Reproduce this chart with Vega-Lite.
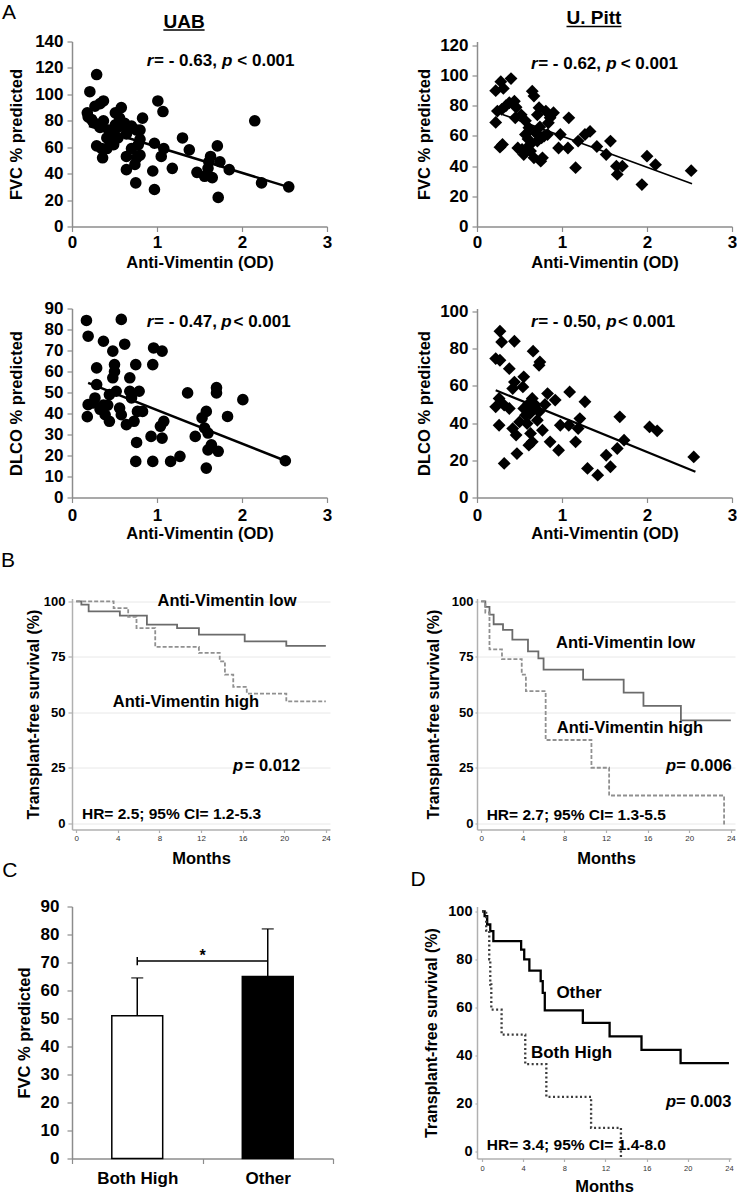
{
"$schema":"https://vega.github.io/schema/vega-lite/v6.json",
"background":"white",
"padding":{"left":1,"top":1.5,"right":0,"bottom":0},
"columns":2,
"spacing":{"row":0,"column":144},
"bounds":"flush",
"resolve":{"scale":{"color":"independent","strokeDash":"independent","fill":"independent"}},
"config":{
 "font":"Liberation Sans",
 "view":{"stroke":null},
 "axis":{"labelFont":"Liberation Sans","titleFont":"Liberation Sans","labelFontWeight":"bold","titleFontWeight":"bold","labelColor":"#000","titleColor":"#000","domainColor":"#8c8c8c","tickColor":"#8c8c8c","domainWidth":1.5,"tickWidth":1.2,"labelFontSize":17,"titleFontSize":16.5,"tickSize":5,"grid":false,"labelOverlap":false,"labelFlush":false},
 "text":{"font":"Liberation Sans","color":"#000"}
},
"datasets":{
 "uabFvc":[{"x":0.29,"y":115},{"x":0.21,"y":102},{"x":0.18,"y":86},{"x":0.19,"y":83},{"x":0.23,"y":81},{"x":0.27,"y":91},{"x":0.33,"y":93},{"x":0.37,"y":95},{"x":0.37,"y":80},{"x":0.33,"y":75},{"x":0.29,"y":61},{"x":0.35,"y":59},{"x":0.36,"y":52},{"x":0.41,"y":67},{"x":0.45,"y":64},{"x":0.47,"y":71},{"x":0.43,"y":73},{"x":0.51,"y":77},{"x":0.51,"y":86},{"x":0.58,"y":90},{"x":0.56,"y":82},{"x":0.54,"y":75},{"x":0.49,"y":62},{"x":0.54,"y":67},{"x":0.64,"y":70},{"x":0.62,"y":78},{"x":0.70,"y":76},{"x":0.76,"y":73},{"x":0.80,"y":73},{"x":0.64,"y":53},{"x":0.70,"y":59},{"x":0.64,"y":43},{"x":0.76,"y":52},{"x":0.80,"y":54},{"x":0.74,"y":47},{"x":0.75,"y":33},{"x":0.83,"y":82},{"x":0.80,"y":66},{"x":0.95,"y":42},{"x":0.97,"y":28},{"x":0.97,"y":63},{"x":1.01,"y":95},{"x":1.07,"y":87},{"x":1.05,"y":53},{"x":1.08,"y":59},{"x":1.18,"y":44},{"x":1.30,"y":67},{"x":1.38,"y":58},{"x":1.47,"y":41},{"x":1.56,"y":38},{"x":1.60,"y":44},{"x":1.63,"y":53},{"x":1.61,"y":49},{"x":1.65,"y":37},{"x":1.71,"y":61},{"x":1.72,"y":22},{"x":1.74,"y":49},{"x":1.85,"y":43},{"x":2.15,"y":80},{"x":2.23,"y":33},{"x":2.55,"y":30},{"x":0.25,"y":79},{"x":0.41,"y":59},{"x":0.47,"y":65},{"x":0.66,"y":73},{"x":0.78,"y":62}],
 "uabFvcFit":[{"x":0.2,"y":76.1},{"x":2.55,"y":29.8}],
 "pittFvc":[{"x":0.22,"y":90},{"x":0.28,"y":96},{"x":0.31,"y":91.5},{"x":0.40,"y":98},{"x":0.22,"y":69},{"x":0.24,"y":76.5},{"x":0.29,"y":77.6},{"x":0.34,"y":80},{"x":0.38,"y":82},{"x":0.44,"y":83},{"x":0.46,"y":79},{"x":0.27,"y":52.6},{"x":0.30,"y":54.4},{"x":0.48,"y":52},{"x":0.53,"y":51},{"x":0.55,"y":47.7},{"x":0.52,"y":74},{"x":0.57,"y":70},{"x":0.57,"y":61},{"x":0.61,"y":65.4},{"x":0.65,"y":89.7},{"x":0.67,"y":86.4},{"x":0.63,"y":50},{"x":0.67,"y":45.5},{"x":0.71,"y":74},{"x":0.73,"y":78.7},{"x":0.76,"y":58.8},{"x":0.71,"y":56.6},{"x":0.77,"y":45.5},{"x":0.75,"y":43.3},{"x":0.83,"y":61},{"x":0.84,"y":68.7},{"x":0.81,"y":76.5},{"x":0.90,"y":75.4},{"x":0.98,"y":61},{"x":0.96,"y":52},{"x":1.08,"y":72},{"x":1.07,"y":52},{"x":1.16,"y":39},{"x":1.19,"y":56.6},{"x":1.27,"y":61},{"x":1.33,"y":63},{"x":1.41,"y":53},{"x":1.52,"y":47.7},{"x":1.57,"y":56.6},{"x":1.64,"y":40},{"x":1.65,"y":34.5},{"x":1.71,"y":40},{"x":1.94,"y":27.8},{"x":2.00,"y":46.6},{"x":2.10,"y":41},{"x":2.52,"y":37},{"x":0.45,"y":72},{"x":0.60,"y":58},{"x":0.69,"y":62},{"x":0.74,"y":66},{"x":0.79,"y":60},{"x":0.86,"y":72},{"x":0.58,"y":50},{"x":0.62,"y":54}],
 "pittFvcFit":[{"x":0.3,"y":74.3},{"x":2.53,"y":28.3}],
 "uabDlco":[{"x":0.17,"y":84.3},{"x":0.19,"y":76.8},{"x":0.18,"y":38.5},{"x":0.19,"y":44.2},{"x":0.27,"y":47.4},{"x":0.29,"y":61.7},{"x":0.29,"y":53.8},{"x":0.37,"y":74.4},{"x":0.48,"y":69.7},{"x":0.50,"y":63.3},{"x":0.50,"y":60},{"x":0.48,"y":57},{"x":0.44,"y":49},{"x":0.37,"y":44},{"x":0.39,"y":39.4},{"x":0.44,"y":36.3},{"x":0.58,"y":84.8},{"x":0.62,"y":73},{"x":0.52,"y":50.6},{"x":0.56,"y":42.6},{"x":0.58,"y":39.4},{"x":0.64,"y":34.7},{"x":0.68,"y":57},{"x":0.68,"y":50.6},{"x":0.70,"y":47.4},{"x":0.75,"y":63.3},{"x":0.79,"y":50.6},{"x":0.73,"y":36.3},{"x":0.77,"y":41},{"x":0.83,"y":41},{"x":0.76,"y":26.2},{"x":0.75,"y":17.2},{"x":0.95,"y":63.3},{"x":0.96,"y":71.2},{"x":1.06,"y":69.7},{"x":0.93,"y":29.1},{"x":0.95,"y":17.2},{"x":1.04,"y":33.9},{"x":1.08,"y":36.3},{"x":1.06,"y":28.3},{"x":1.16,"y":17.2},{"x":1.27,"y":19.6},{"x":1.36,"y":49.8},{"x":1.45,"y":29.1},{"x":1.53,"y":37.9},{"x":1.58,"y":41},{"x":1.56,"y":33.1},{"x":1.60,"y":30.7},{"x":1.58,"y":14},{"x":1.60,"y":22.7},{"x":1.64,"y":25.1},{"x":1.72,"y":22},{"x":1.70,"y":52.3},{"x":1.70,"y":49.8},{"x":1.83,"y":38.6},{"x":2.01,"y":46.6},{"x":2.51,"y":17.5},{"x":0.25,"y":45},{"x":0.33,"y":42},{"x":0.42,"y":44}],
 "uabDlcoFit":[{"x":0.19,"y":54.6},{"x":2.51,"y":17.5}],
 "pittDlco":[{"x":0.27,"y":89.3},{"x":0.29,"y":83.5},{"x":0.44,"y":83.9},{"x":0.22,"y":74.6},{"x":0.27,"y":73.7},{"x":0.38,"y":69.2},{"x":0.44,"y":62},{"x":0.42,"y":58.5},{"x":0.55,"y":64.8},{"x":0.54,"y":59.4},{"x":0.66,"y":78.6},{"x":0.74,"y":72.8},{"x":0.73,"y":71},{"x":0.22,"y":48.7},{"x":0.26,"y":53.2},{"x":0.32,"y":49.6},{"x":0.38,"y":47.8},{"x":0.26,"y":38.8},{"x":0.42,"y":37},{"x":0.46,"y":33.5},{"x":0.32,"y":18.3},{"x":0.47,"y":23.6},{"x":0.50,"y":40.6},{"x":0.55,"y":47.8},{"x":0.61,"y":50.5},{"x":0.65,"y":53.2},{"x":0.57,"y":44.2},{"x":0.59,"y":39.7},{"x":0.63,"y":34.4},{"x":0.61,"y":28.1},{"x":0.65,"y":29.9},{"x":0.69,"y":49.6},{"x":0.73,"y":46},{"x":0.77,"y":36.1},{"x":0.71,"y":41.5},{"x":0.83,"y":55.8},{"x":0.92,"y":52.3},{"x":0.86,"y":29.9},{"x":0.98,"y":38.8},{"x":0.96,"y":25.4},{"x":1.09,"y":56.7},{"x":1.08,"y":38.8},{"x":1.16,"y":29.9},{"x":1.21,"y":42.4},{"x":1.19,"y":37},{"x":1.27,"y":51.4},{"x":1.30,"y":15.6},{"x":1.42,"y":12},{"x":1.52,"y":22.7},{"x":1.57,"y":16.5},{"x":1.65,"y":26.3},{"x":1.68,"y":43.3},{"x":1.73,"y":30.8},{"x":2.03,"y":37.9},{"x":2.12,"y":35.8},{"x":2.55,"y":21.8},{"x":0.62,"y":45},{"x":0.67,"y":48},{"x":0.80,"y":50}],
 "pittDlcoFit":[{"x":0.22,"y":57.6},{"x":2.57,"y":13.8}],
 "kmB1":[{"g":"low","x":0,"y":100},{"g":"low","x":0.5,"y":98.5},{"g":"low","x":1.2,"y":95.5},{"g":"low","x":4.2,"y":93.6},{"g":"low","x":6.8,"y":89.5},{"g":"low","x":9.7,"y":88},{"g":"low","x":11.8,"y":85},{"g":"low","x":16.2,"y":82},{"g":"low","x":20.2,"y":80},{"g":"low","x":24,"y":80},
  {"g":"high","x":0,"y":100},{"g":"high","x":3.6,"y":97},{"g":"high","x":5.0,"y":93},{"g":"high","x":5.8,"y":88},{"g":"high","x":7.6,"y":79.5},{"g":"high","x":11.8,"y":76.8},{"g":"high","x":13.8,"y":73},{"g":"high","x":14.3,"y":67},{"g":"high","x":15.1,"y":61.5},{"g":"high","x":16.4,"y":58.5},{"g":"high","x":20.2,"y":55},{"g":"high","x":24,"y":55}],
 "kmB2":[{"g":"low","x":0,"y":100},{"g":"low","x":0.4,"y":97.5},{"g":"low","x":0.8,"y":94},{"g":"low","x":1.2,"y":89.7},{"g":"low","x":2.1,"y":87.2},{"g":"low","x":3.0,"y":82.8},{"g":"low","x":4.5,"y":77.5},{"g":"low","x":5.5,"y":74.3},{"g":"low","x":6.0,"y":69.3},{"g":"low","x":9.8,"y":64.8},{"g":"low","x":13.7,"y":58.9},{"g":"low","x":15.6,"y":53},{"g":"low","x":19.2,"y":46.4},{"g":"low","x":24,"y":46.4},
  {"g":"high","x":0,"y":100},{"g":"high","x":0.4,"y":95},{"g":"high","x":0.8,"y":78.4},{"g":"high","x":2.0,"y":74},{"g":"high","x":3.9,"y":67},{"g":"high","x":4.3,"y":59.6},{"g":"high","x":6.2,"y":37.6},{"g":"high","x":10.6,"y":25.1},{"g":"high","x":12.3,"y":12.6},{"g":"high","x":23.35,"y":-1}],
 "kmD":[{"g":"other","x":0,"y":100},{"g":"other","x":0.25,"y":98},{"g":"other","x":0.5,"y":94.5},{"g":"other","x":0.8,"y":91.7},{"g":"other","x":1.1,"y":87.6},{"g":"other","x":3.8,"y":84},{"g":"other","x":4.1,"y":80},{"g":"other","x":4.6,"y":75.3},{"g":"other","x":5.7,"y":70.9},{"g":"other","x":5.9,"y":66},{"g":"other","x":6.1,"y":58.7},{"g":"other","x":9.8,"y":53.5},{"g":"other","x":12.4,"y":47.9},{"g":"other","x":15.5,"y":42.3},{"g":"other","x":19.3,"y":36.7},{"g":"other","x":24,"y":36.7},
  {"g":"both","x":0,"y":100},{"g":"both","x":0.4,"y":92},{"g":"both","x":0.7,"y":80},{"g":"both","x":0.8,"y":69.5},{"g":"both","x":0.9,"y":59},{"g":"both","x":1.9,"y":48.6},{"g":"both","x":4.2,"y":36.3},{"g":"both","x":6.25,"y":22.7},{"g":"both","x":10.6,"y":9.8},{"g":"both","x":13.5,"y":-3}],
 "bars":[{"g":"Both High","y":51,"up":64.5},{"g":"Other","y":65,"up":82}]
},
"concat":[
 {"width":255,"height":185,"layer":[
  {"data":{"name":"uabFvc"},"mark":{"type":"point","shape":"circle","filled":true,"color":"#000","opacity":1,"size":135},
   "encoding":{"x":{"field":"x","type":"quantitative","scale":{"domain":[0,3],"nice":false,"zero":false},"axis":{"values":[0,1,2,3],"tickCount":30,"format":"d","labelOverlap":false,"title":"Anti-Vimentin (OD)","labelPadding":3,"titlePadding":4}},
    "y":{"field":"y","type":"quantitative","scale":{"domain":[0,140],"nice":false},"axis":{"values":[0,20,40,60,80,100,120,140],"tickCount":30,"format":"d","labelOverlap":false,"title":"FVC % predicted","labelPadding":4,"titlePadding":10}}}},
  {"data":{"name":"uabFvcFit"},"mark":{"type":"line","color":"#000","strokeWidth":2.5},"encoding":{"x":{"field":"x","type":"quantitative"},"y":{"field":"y","type":"quantitative"}}},
  {"data":{"values":[{"x":-0.74,"y":161.2,"t":"A"}]},"mark":{"type":"text","fontSize":21,"fontWeight":"normal","align":"center","baseline":"middle"},"encoding":{"x":{"field":"x","type":"quantitative"},"y":{"field":"y","type":"quantitative"},"text":{"field":"t"}}},
  {"data":{"values":[{"x":1.318,"y":155.1,"t":"UAB"}]},"mark":{"type":"text","fontSize":19,"fontWeight":"bold","align":"center","baseline":"middle"},"encoding":{"x":{"field":"x","type":"quantitative"},"y":{"field":"y","type":"quantitative"},"text":{"field":"t"}}},
  {"data":{"values":[{"x":1.075,"x2":1.56,"y":148.7}]},"mark":{"type":"rule","color":"#000","strokeWidth":1.5},"encoding":{"x":{"field":"x","type":"quantitative"},"x2":{"field":"x2"},"y":{"field":"y","type":"quantitative"}}},
  {"data":{"values":[{"x":0.878,"y":124.9,"t":"r"},{"x":1.765,"y":124.9,"t":"p"}]},"mark":{"type":"text","fontSize":17,"fontWeight":"bold","fontStyle":"italic","align":"left","baseline":"middle"},"encoding":{"x":{"field":"x","type":"quantitative"},"y":{"field":"y","type":"quantitative"},"text":{"field":"t"}}},
  {"data":{"values":[{"x":0.965,"y":124.9,"t":"= - 0.63,"},{"x":1.945,"y":124.9,"t":"< 0.001"}]},"mark":{"type":"text","fontSize":17,"fontWeight":"bold","align":"left","baseline":"middle"},"encoding":{"x":{"field":"x","type":"quantitative"},"y":{"field":"y","type":"quantitative"},"text":{"field":"t"}}}
 ]},
 {"width":255,"height":185,"layer":[
  {"data":{"name":"pittFvc"},"mark":{"type":"point","shape":"diamond","filled":true,"color":"#000","opacity":1,"size":165},
   "encoding":{"x":{"field":"x","type":"quantitative","scale":{"domain":[0,3],"nice":false,"zero":false},"axis":{"values":[0,1,2,3],"tickCount":30,"format":"d","labelOverlap":false,"title":"Anti-Vimentin (OD)","labelPadding":3,"titlePadding":4}},
    "y":{"field":"y","type":"quantitative","scale":{"domain":[0,122.6],"nice":false},"axis":{"values":[0,20,40,60,80,100,120],"tickCount":30,"format":"d","labelOverlap":false,"title":"FVC % predicted","labelPadding":4,"titlePadding":7}}}},
  {"data":{"name":"pittFvcFit"},"mark":{"type":"line","color":"#000","strokeWidth":1.6},"encoding":{"x":{"field":"x","type":"quantitative"},"y":{"field":"y","type":"quantitative"}}},
  {"data":{"values":[{"x":1.376,"y":138.5,"t":"U. Pitt"}]},"mark":{"type":"text","fontSize":19,"fontWeight":"bold","align":"center","baseline":"middle"},"encoding":{"x":{"field":"x","type":"quantitative"},"y":{"field":"y","type":"quantitative"},"text":{"field":"t"}}},
  {"data":{"values":[{"x":1.053,"x2":1.7,"y":132.5}]},"mark":{"type":"rule","color":"#000","strokeWidth":1.5},"encoding":{"x":{"field":"x","type":"quantitative"},"x2":{"field":"x2"},"y":{"field":"y","type":"quantitative"}}},
  {"data":{"values":[{"x":0.635,"y":108,"t":"r"},{"x":1.52,"y":108,"t":"p"}]},"mark":{"type":"text","fontSize":17,"fontWeight":"bold","fontStyle":"italic","align":"left","baseline":"middle"},"encoding":{"x":{"field":"x","type":"quantitative"},"y":{"field":"y","type":"quantitative"},"text":{"field":"t"}}},
  {"data":{"values":[{"x":0.72,"y":108,"t":"= - 0.62,"},{"x":1.69,"y":108,"t":"< 0.001"}]},"mark":{"type":"text","fontSize":17,"fontWeight":"bold","align":"left","baseline":"middle"},"encoding":{"x":{"field":"x","type":"quantitative"},"y":{"field":"y","type":"quantitative"},"text":{"field":"t"}}}
 ]},
 {"width":255,"height":271,"layer":[
  {"data":{"name":"uabDlco"},"mark":{"type":"point","shape":"circle","filled":true,"color":"#000","opacity":1,"size":135},
   "encoding":{"x":{"field":"x","type":"quantitative","scale":{"domain":[0,3],"nice":false,"zero":false},"axis":{"values":[0,1,2,3],"tickCount":30,"format":"d","labelOverlap":false,"title":"Anti-Vimentin (OD)","labelPadding":5,"titlePadding":2}},
    "y":{"field":"y","type":"quantitative","scale":{"domain":[0,90],"range":[271,82],"nice":false},"axis":{"values":[0,10,20,30,40,50,60,70,80,90],"tickCount":30,"format":"d","labelOverlap":false,"title":"DLCO % predicted","labelPadding":4,"titlePadding":20}}}},
  {"data":{"name":"uabDlcoFit"},"mark":{"type":"line","color":"#000","strokeWidth":2.5},"encoding":{"x":{"field":"x","type":"quantitative"},"y":{"field":"y","type":"quantitative"}}},
  {"data":{"values":[{"x":0.878,"y":83.8,"t":"r"},{"x":1.755,"y":83.8,"t":"p"}]},"mark":{"type":"text","fontSize":17,"fontWeight":"bold","fontStyle":"italic","align":"left","baseline":"middle"},"encoding":{"x":{"field":"x","type":"quantitative"},"y":{"field":"y","type":"quantitative"},"text":{"field":"t"}}},
  {"data":{"values":[{"x":0.965,"y":83.8,"t":"= - 0.47,"},{"x":1.9,"y":83.8,"t":"< 0.001"}]},"mark":{"type":"text","fontSize":17,"fontWeight":"bold","align":"left","baseline":"middle"},"encoding":{"x":{"field":"x","type":"quantitative"},"y":{"field":"y","type":"quantitative"},"text":{"field":"t"}}}
 ]},
 {"width":255,"height":271,"layer":[
  {"data":{"name":"pittDlco"},"mark":{"type":"point","shape":"diamond","filled":true,"color":"#000","opacity":1,"size":165},
   "encoding":{"x":{"field":"x","type":"quantitative","scale":{"domain":[0,3],"nice":false,"zero":false},"axis":{"values":[0,1,2,3],"tickCount":30,"format":"d","labelOverlap":false,"title":"Anti-Vimentin (OD)","labelPadding":5,"titlePadding":2}},
    "y":{"field":"y","type":"quantitative","scale":{"domain":[0,101.5],"range":[271,82],"nice":false},"axis":{"values":[0,20,40,60,80,100],"tickCount":30,"format":"d","labelOverlap":false,"title":"DLCO % predicted","labelPadding":4,"titlePadding":7}}}},
  {"data":{"name":"pittDlcoFit"},"mark":{"type":"line","color":"#000","strokeWidth":2.2},"encoding":{"x":{"field":"x","type":"quantitative"},"y":{"field":"y","type":"quantitative"}}},
  {"data":{"values":[{"x":0.635,"y":94.5,"t":"r"},{"x":1.52,"y":94.5,"t":"p"}]},"mark":{"type":"text","fontSize":17,"fontWeight":"bold","fontStyle":"italic","align":"left","baseline":"middle"},"encoding":{"x":{"field":"x","type":"quantitative"},"y":{"field":"y","type":"quantitative"},"text":{"field":"t"}}},
  {"data":{"values":[{"x":0.72,"y":94.5,"t":"= - 0.50,"},{"x":1.66,"y":94.5,"t":"< 0.001"}]},"mark":{"type":"text","fontSize":17,"fontWeight":"bold","align":"left","baseline":"middle"},"encoding":{"x":{"field":"x","type":"quantitative"},"y":{"field":"y","type":"quantitative"},"text":{"field":"t"}}}
 ]},
 {"width":258,"height":332,"layer":[
  {"data":{"name":"kmB1"},"mark":{"type":"line","interpolate":"step-after","strokeWidth":1.8},
   "encoding":{"x":{"field":"x","type":"quantitative","scale":{"domain":[-0.4,24.4],"nice":false,"zero":false},"axis":{"values":[0,4,8,12,16,20,24],"tickCount":30,"format":"d","labelOverlap":false,"title":"Months","titleFontSize":16.5,"labelFontSize":8,"labelFontWeight":"normal","labelColor":"#333","tickSize":3,"labelPadding":2,"titlePadding":8,"domainColor":"#b0b0b0","tickColor":"#b0b0b0"}},
    "y":{"field":"y","type":"quantitative","scale":{"domain":[-2.7,101.3],"range":[332,101],"nice":false,"zero":false},"axis":{"values":[0,25,50,75,100],"tickCount":30,"format":"d","labelOverlap":false,"title":"Transplant-free survival (%)","titleFontSize":16,"labelFontSize":13,"tickSize":4,"labelPadding":3,"titlePadding":2,"grid":true,"gridColor":"#e8e8e8","domainColor":"#b0b0b0","tickColor":"#b0b0b0"}},
    "color":{"field":"g","type":"nominal","scale":{"domain":["low","high"],"range":["#6b6b6b","#909090"]},"legend":null},
    "strokeDash":{"field":"g","type":"nominal","scale":{"domain":["low","high"],"range":[[1,0],[4,2]]},"legend":null}}},
  {"data":{"values":[{"x":14.5,"y":100,"t":"Anti-Vimentin low"},{"x":10.56,"y":54.9,"t":"Anti-Vimentin high"}]},"mark":{"type":"text","fontSize":16.5,"fontWeight":"bold","align":"center","baseline":"middle"},"encoding":{"x":{"field":"x","type":"quantitative"},"y":{"field":"y","type":"quantitative"},"text":{"field":"t"}}},
  {"data":{"values":[{"x":15.08,"y":25.7,"t":"p"}]},"mark":{"type":"text","fontSize":16.5,"fontWeight":"bold","fontStyle":"italic","align":"left","baseline":"middle"},"encoding":{"x":{"field":"x","type":"quantitative"},"y":{"field":"y","type":"quantitative"},"text":{"field":"t"}}},
  {"data":{"values":[{"x":16.2,"y":25.7,"t":"= 0.012"}]},"mark":{"type":"text","fontSize":16.5,"fontWeight":"bold","align":"left","baseline":"middle"},"encoding":{"x":{"field":"x","type":"quantitative"},"y":{"field":"y","type":"quantitative"},"text":{"field":"t"}}},
  {"data":{"values":[{"x":0.56,"y":4.5,"t":"HR= 2.5; 95% CI= 1.2-5.3"}]},"mark":{"type":"text","fontSize":15.5,"fontWeight":"bold","align":"left","baseline":"middle"},"encoding":{"x":{"field":"x","type":"quantitative"},"y":{"field":"y","type":"quantitative"},"text":{"field":"t"}}},
  {"data":{"values":[{"x":-6.54,"y":118,"t":"B"},{"x":-6.37,"y":-21.6,"t":"C"}]},"mark":{"type":"text","fontSize":21,"fontWeight":"normal","align":"center","baseline":"middle"},"encoding":{"x":{"field":"x","type":"quantitative"},"y":{"field":"y","type":"quantitative"},"text":{"field":"t"}}}
 ]},
 {"width":258,"height":332,"layer":[
  {"data":{"name":"kmB2"},"mark":{"type":"line","interpolate":"step-after","strokeWidth":1.8},
   "encoding":{"x":{"field":"x","type":"quantitative","scale":{"domain":[-0.4,24.4],"nice":false,"zero":false},"axis":{"values":[0,4,8,12,16,20,24],"tickCount":30,"format":"d","labelOverlap":false,"title":"Months","titleFontSize":16.5,"labelFontSize":8,"labelFontWeight":"normal","labelColor":"#333","tickSize":3,"labelPadding":2,"titlePadding":8,"domainColor":"#b0b0b0","tickColor":"#b0b0b0"}},
    "y":{"field":"y","type":"quantitative","scale":{"domain":[-2.7,101.3],"range":[332,101],"nice":false,"zero":false},"axis":{"values":[0,25,50,75,100],"tickCount":30,"format":"d","labelOverlap":false,"title":"Transplant-free survival (%)","titleFontSize":16,"labelFontSize":13,"tickSize":2,"labelPadding":2,"titlePadding":10,"grid":true,"gridColor":"#e8e8e8","domainColor":"#b0b0b0","tickColor":"#b0b0b0"}},
    "color":{"field":"g","type":"nominal","scale":{"domain":["low","high"],"range":["#6b6b6b","#909090"]},"legend":null},
    "strokeDash":{"field":"g","type":"nominal","scale":{"domain":["low","high"],"range":[[1,0],[4,2]]},"legend":null}}},
  {"data":{"values":[{"x":13.88,"y":81.2,"t":"Anti-Vimentin low"},{"x":14.3,"y":42.9,"t":"Anti-Vimentin high"}]},"mark":{"type":"text","fontSize":16.5,"fontWeight":"bold","align":"center","baseline":"middle"},"encoding":{"x":{"field":"x","type":"quantitative"},"y":{"field":"y","type":"quantitative"},"text":{"field":"t"}}},
  {"data":{"values":[{"x":17.77,"y":25.7,"t":"p"}]},"mark":{"type":"text","fontSize":16.5,"fontWeight":"bold","fontStyle":"italic","align":"left","baseline":"middle"},"encoding":{"x":{"field":"x","type":"quantitative"},"y":{"field":"y","type":"quantitative"},"text":{"field":"t"}}},
  {"data":{"values":[{"x":18.75,"y":25.7,"t":"= 0.006"}]},"mark":{"type":"text","fontSize":16.5,"fontWeight":"bold","align":"left","baseline":"middle"},"encoding":{"x":{"field":"x","type":"quantitative"},"y":{"field":"y","type":"quantitative"},"text":{"field":"t"}}},
  {"data":{"values":[{"x":0.53,"y":4,"t":"HR= 2.7; 95% CI= 1.3-5.5"}]},"mark":{"type":"text","fontSize":15.5,"fontWeight":"bold","align":"left","baseline":"middle"},"encoding":{"x":{"field":"x","type":"quantitative"},"y":{"field":"y","type":"quantitative"},"text":{"field":"t"}}}
 ]},
 {"width":261,"height":329,"layer":[
  {"data":{"name":"bars"},"mark":{"type":"bar","width":{"band":0.39},"stroke":"#000","strokeWidth":1.5},
   "encoding":{"x":{"field":"g","type":"nominal","sort":null,"scale":{"domain":["Both High","Other"],"paddingInner":0,"paddingOuter":0},"axis":{"title":null,"labelAngle":0,"tickBand":"extent","labelPadding":7,"labelFontSize":17}},
    "y":{"field":"y","type":"quantitative","scale":{"domain":[0,90],"range":[329,77],"nice":false},"axis":{"values":[0,10,20,30,40,50,60,70,80,90],"tickCount":30,"format":"d","labelOverlap":false,"title":"FVC % predicted","labelPadding":8,"titlePadding":8}},
    "fill":{"field":"g","type":"nominal","scale":{"domain":["Both High","Other"],"range":["#ffffff","#000000"]},"legend":null}}},
  {"data":{"name":"bars"},"mark":{"type":"rule","color":"#000","strokeWidth":1.5},"encoding":{"x":{"field":"g","type":"nominal"},"y":{"field":"y","type":"quantitative"},"y2":{"field":"up"}}},
  {"data":{"name":"bars"},"mark":{"type":"tick","color":"#000","size":12,"thickness":1.5,"orient":"horizontal"},"encoding":{"x":{"field":"g","type":"nominal"},"y":{"field":"up","type":"quantitative"}}},
  {"data":{"values":[{"g":"Both High","g2":"Other","y":70.5}]},"mark":{"type":"rule","color":"#000","strokeWidth":1.5},"encoding":{"x":{"field":"g","type":"nominal"},"x2":{"field":"g2"},"y":{"field":"y","type":"quantitative"}}},
  {"data":{"values":[{"g":"Both High","y":69,"y2":72}]},"mark":{"type":"rule","color":"#000","strokeWidth":1.5},"encoding":{"x":{"field":"g","type":"nominal"},"y":{"field":"y","type":"quantitative"},"y2":{"field":"y2"}}},
  {"data":{"values":[{"g":"Both High","y":72.5,"t":"*"}]},"mark":{"type":"text","fontSize":16,"fontWeight":"bold","align":"center","baseline":"middle"},"encoding":{"x":{"field":"g","type":"nominal","bandPosition":1},"y":{"field":"y","type":"quantitative"},"text":{"field":"t"}}}
 ]},
 {"width":254,"height":329,"layer":[
  {"data":{"name":"kmD"},"mark":{"type":"line","interpolate":"step-after","strokeWidth":2.3},
   "encoding":{"x":{"field":"x","type":"quantitative","scale":{"domain":[-0.49,24.2],"nice":false,"zero":false},"axis":{"values":[0,4,8,12,16,20,24],"tickCount":30,"format":"d","labelOverlap":false,"title":"Months","titleFontSize":16.5,"labelFontSize":7.5,"labelFontWeight":"normal","labelColor":"#333","tickSize":3,"labelPadding":3,"titlePadding":6,"domainColor":"#b0b0b0","tickColor":"#b0b0b0"}},
    "y":{"field":"y","type":"quantitative","scale":{"domain":[-3,102],"range":[329,77],"nice":false,"zero":false},"axis":{"values":[0,20,40,60,80,100],"tickCount":30,"format":"d","labelOverlap":false,"title":"Transplant-free survival (%)","titleFontSize":16,"labelFontSize":14.5,"tickSize":2,"labelPadding":3,"titlePadding":8,"domainColor":"#b0b0b0","tickColor":"#b0b0b0"}},
    "color":{"field":"g","type":"nominal","scale":{"domain":["other","both"],"range":["#000000","#3c3c3c"]},"legend":null},
    "strokeDash":{"field":"g","type":"nominal","scale":{"domain":["other","both"],"range":[[1,0],[2,2.5]]},"legend":null}}},
  {"data":{"values":[{"x":9.43,"y":65.9,"t":"Other"},{"x":8.7,"y":40.9,"t":"Both High"}]},"mark":{"type":"text","fontSize":17,"fontWeight":"bold","align":"center","baseline":"middle"},"encoding":{"x":{"field":"x","type":"quantitative"},"y":{"field":"y","type":"quantitative"},"text":{"field":"t"}}},
  {"data":{"values":[{"x":17.89,"y":20.5,"t":"p"}]},"mark":{"type":"text","fontSize":16.5,"fontWeight":"bold","fontStyle":"italic","align":"left","baseline":"middle"},"encoding":{"x":{"field":"x","type":"quantitative"},"y":{"field":"y","type":"quantitative"},"text":{"field":"t"}}},
  {"data":{"values":[{"x":18.85,"y":20.5,"t":"= 0.003"}]},"mark":{"type":"text","fontSize":16.5,"fontWeight":"bold","align":"left","baseline":"middle"},"encoding":{"x":{"field":"x","type":"quantitative"},"y":{"field":"y","type":"quantitative"},"text":{"field":"t"}}},
  {"data":{"values":[{"x":0.46,"y":2.7,"t":"HR= 3.4; 95% CI= 1.4-8.0"}]},"mark":{"type":"text","fontSize":15.5,"fontWeight":"bold","align":"left","baseline":"middle"},"encoding":{"x":{"field":"x","type":"quantitative"},"y":{"field":"y","type":"quantitative"},"text":{"field":"t"}}},
  {"data":{"values":[{"x":-6.22,"y":113,"t":"D"}]},"mark":{"type":"text","fontSize":21,"fontWeight":"normal","align":"center","baseline":"middle"},"encoding":{"x":{"field":"x","type":"quantitative"},"y":{"field":"y","type":"quantitative"},"text":{"field":"t"}}}
 ]}
]
}
